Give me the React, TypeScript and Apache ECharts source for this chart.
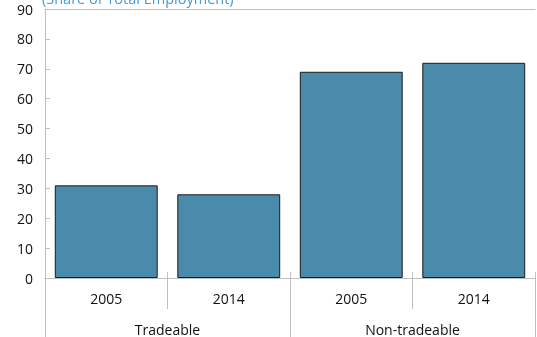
import React, { useEffect, useRef } from "react";
import * as echarts from "echarts";

const years = ["2005", "2014", "2005", "2014"];
const groups = ["Tradeable", "Non-tradeable"];
const shares = [31, 28, 69, 72];
const yTicks = { min: 0, max: 90, interval: 10 };
const titleText = "(Share of Total Employment)";

const FONT = "'Open Sans', sans-serif";
const GRAY = "#bfbfbf";

export default function App() {
  const ref = useRef<HTMLDivElement>(null);
  useEffect(() => {
    if (!ref.current) return;
    const chart = echarts.init(ref.current, null, { renderer: "svg" });
    chart.setOption({
      animation: false,
      grid: { left: 45, right: 2, top: 9, bottom: 59, containLabel: false },
      graphic: [
        {
          type: "text",
          x: 42,
          y: -9,
          style: {
            text: titleText,
            fill: "#4a98d6",
            font: `14.5px ${FONT}`,
            textVerticalAlign: "top",
          },
        },
      ],
      xAxis: [
        {
          type: "category",
          data: years,
          position: "bottom",
          axisLine: { show: true, lineStyle: { color: GRAY, width: 1 } },
          axisTick: { show: true, length: 31, interval: 0, lineStyle: { color: GRAY } },
          axisLabel: { margin: 13, color: "#111", fontSize: 14, fontFamily: FONT, interval: 0 },
          splitLine: { show: false },
        },
        {
          type: "category",
          data: groups,
          position: "bottom",
          offset: -6,
          axisLine: { show: false },
          axisTick: { show: true, length: 65, interval: 0, lineStyle: { color: GRAY } },
          axisLabel: { margin: 50, color: "#111", fontSize: 14, fontFamily: FONT, interval: 0 },
          splitLine: { show: false },
        },
        {
          type: "category",
          data: years,
          position: "bottom",
          axisLine: { show: false },
          axisTick: { show: true, inside: true, length: 6, interval: 0, lineStyle: { color: GRAY } },
          axisLabel: { show: false },
          splitLine: { show: false },
        },
        {
          type: "category",
          data: years,
          position: "top",
          axisLine: { show: true, lineStyle: { color: GRAY } },
          axisTick: { show: false },
          axisLabel: { show: false },
          splitLine: { show: false },
        },
      ],
      yAxis: {
        type: "value",
        min: yTicks.min,
        max: yTicks.max,
        interval: yTicks.interval,
        axisLine: { show: true, lineStyle: { color: GRAY } },
        axisTick: { show: true, inside: true, length: 5, lineStyle: { color: GRAY } },
        axisLabel: { margin: 12, color: "#111", fontSize: 14, fontFamily: FONT },
        splitLine: { show: false },
      },
      series: [
        {
          type: "bar",
          xAxisIndex: 0,
          data: shares,
          barWidth: "84%",
          itemStyle: { color: "#4a8bab", borderColor: "#1a1a1a", borderWidth: 1 },
        },
      ],
    });
    return () => chart.dispose();
  }, []);
  return (
    <div
      ref={ref}
      style={{ position: "fixed", left: 0, top: 0, width: 537, height: 337 }}
    />
  );
}
